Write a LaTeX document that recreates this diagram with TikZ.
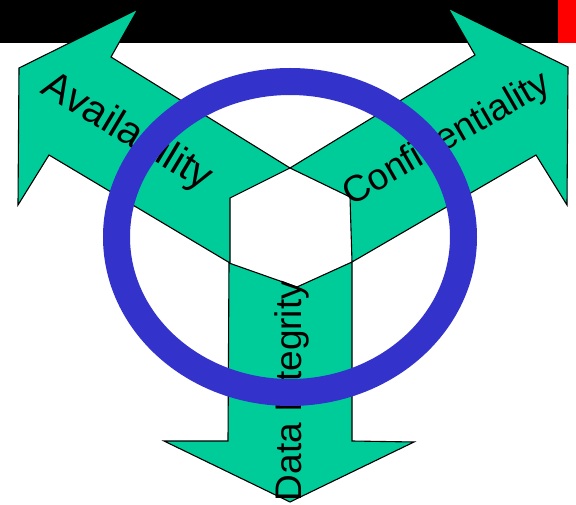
\documentclass[tikz,border=0pt]{standalone}
\usepackage{fontspec}
\setmainfont{Liberation Sans}
\definecolor{arrgreen}{RGB}{0,204,153}
\definecolor{ringblue}{RGB}{51,51,204}
\begin{document}
\begin{tikzpicture}[x=1pt,y=-1pt,
  arrowshape/.style={fill=arrgreen,draw=black,line width=1.1pt,line join=miter},
  lbl/.style={inner sep=0pt,font=\fontsize{37}{40}\selectfont,text=black}]
\useasboundingbox (0,0) rectangle (576,505);
\fill[white] (0,0) rectangle (576,505);
% top bar
\fill[black] (0,0) rectangle (558,43);
\fill[red] (558,0) rectangle (576,43);
% Availability arrow (up-left)
\coordinate (hub) at (290,168);
\draw[arrowshape] (hub) -- (230,198) -- (230,263) -- (49,155) -- (18,205)
  -- (19,68) -- (138,9) -- (111,57) -- cycle;
% Confidentiality arrow (up-right)
\draw[arrowshape] (hub) -- (475,55) -- (448,8) -- (568,67) -- (567,205)
  -- (536,155) -- (352,262) -- (350,197) -- cycle;
% Data Integrity arrow (down)
\draw[arrowshape] (229,263) -- (297,287) -- (352,262) -- (352,441) -- (414,442)
  -- (290,502) -- (164,441) -- (228,441) -- cycle;
% labels
\node[lbl,rotate=-31,font=\fontsize{40.5}{44}\selectfont] (avail) at (127,133) {Availability};
\node[lbl,rotate=30] (conf) at (447,140) {Confidentiality};
\node[lbl,rotate=90] (integ) at (292,391) {Data Integrity};
% ring
\draw[ringblue,line width=27pt] (290,237) ellipse [x radius=173.5,y radius=155.5];
\end{tikzpicture}
\end{document}
